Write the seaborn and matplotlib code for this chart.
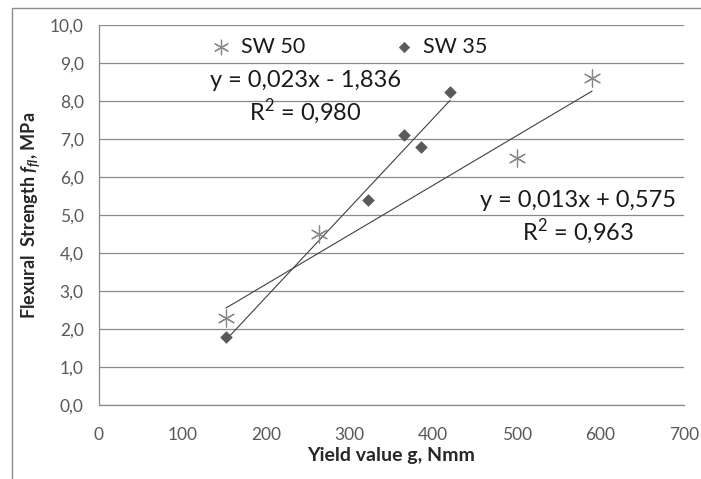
import numpy as np
import pandas as pd
import matplotlib
matplotlib.use("Agg")
import matplotlib.pyplot as plt
import seaborn as sns
from matplotlib.patches import Rectangle
from matplotlib.ticker import FuncFormatter, MultipleLocator

# data
sw50_x = [152, 263, 500, 590]
sw50_y = [2.3, 4.5, 6.5, 8.6]
sw35_x = [152, 322, 365, 385, 420]
sw35_y = [1.8, 5.4, 7.1, 6.8, 8.25]
eq_sw35 = ["y = 0,023x - 1,836", r"R$^2$ = 0,980"]
eq_sw50 = ["y = 0,013x + 0,575", r"R$^2$ = 0,963"]

sns.set_theme(style="white")
plt.rcParams['font.family'] = ['Lato', 'DejaVu Sans']
plt.rcParams['mathtext.fontset'] = 'custom'
plt.rcParams['mathtext.it'] = 'Lato:italic:bold'
plt.rcParams['mathtext.rm'] = 'Lato'

df50 = pd.DataFrame({'g': sw50_x, 'f': sw50_y})
df35 = pd.DataFrame({'g': sw35_x, 'f': sw35_y})

fig = plt.figure(figsize=(7.01, 4.79), dpi=100)
ax = fig.add_axes([0.1412, 0.1545, 0.8345, 0.7933])

# outer frame like the spreadsheet chart area
fig.patches.append(Rectangle((12 / 701, -0.1), 1.2, 1 - 8 / 479 + 0.1, transform=fig.transFigure,
                             fill=False, edgecolor='#8c8c8c', linewidth=1.0))

ax.yaxis.grid(True, color='#8a8a8a', linewidth=0.9)
ax.set_axisbelow(True)

# trendlines
sns.regplot(data=df35, x='g', y='f', scatter=False, ci=None, truncate=True, ax=ax,
            line_kws=dict(color='#404040', linewidth=0.8))
sns.regplot(data=df50, x='g', y='f', scatter=False, ci=None, truncate=True, ax=ax,
            line_kws=dict(color='#404040', linewidth=0.8))

sns.scatterplot(data=df50, x='g', y='f', marker=(6, 2, 0), s=150, color='#8a8a8a',
                linewidth=0.9, ax=ax, label='SW 50', zorder=3)
sns.scatterplot(data=df35, x='g', y='f', marker='D', s=35, color='#5a5a5a',
                edgecolor='#5a5a5a', ax=ax, label='SW 35', zorder=3)

ax.set_xlim(0, 700)
ax.set_ylim(0, 10)
ax.xaxis.set_major_locator(MultipleLocator(100))
ax.yaxis.set_major_locator(MultipleLocator(1))
ax.yaxis.set_major_formatter(FuncFormatter(lambda v, p: f'{v:.1f}'.replace('.', ',')))
ax.tick_params(axis='both', labelsize=12.5, colors='#595959', length=0)
ax.tick_params(axis='y', pad=11)
ax.tick_params(axis='x', pad=16)

for side in ['top', 'right']:
    ax.spines[side].set_visible(False)
for side in ['left', 'bottom']:
    ax.spines[side].set_color('#8a8a8a')
    ax.spines[side].set_linewidth(0.9)

ax.set_xlabel('Yield value g, Nmm', fontsize=14, fontweight='bold', color='#262626', labelpad=3)
ax.set_ylabel(r'Flexural  Strength $\mathit{f}_{\mathit{fl}}$, MPa', fontsize=13,
              fontweight='bold', color='#262626', labelpad=5)

ax.text(247, 8.55, eq_sw35[0], fontsize=17, ha='center', va='center', color='#1a1a1a')
ax.text(247, 7.72, eq_sw35[1], fontsize=17, ha='center', va='center', color='#1a1a1a')
ax.text(573, 5.38, eq_sw50[0], fontsize=17, ha='center', va='center', color='#1a1a1a')
ax.text(573, 4.58, eq_sw50[1], fontsize=17, ha='center', va='center', color='#1a1a1a')

leg = ax.legend(loc='center', bbox_to_anchor=(0.426, 0.942), ncol=2, frameon=False, fontsize=15.5,
                columnspacing=4.0, handletextpad=0.3, handlelength=1.2, labelcolor='#1a1a1a')
leg.legend_handles[0].set_sizes([110])
leg.legend_handles[1].set_sizes([28])

fig.savefig('out.png', dpi=100)
